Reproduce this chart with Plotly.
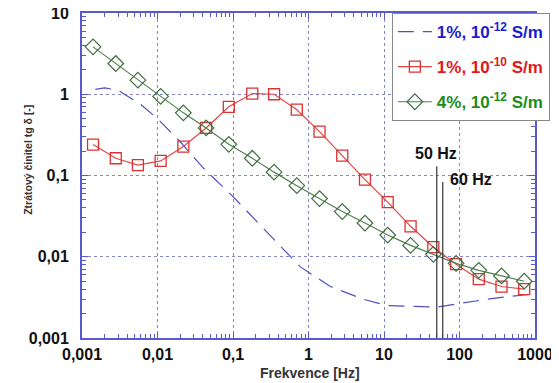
import math
import plotly.graph_objects as go

# ---- data ----
freq_pts = [0.0014, 0.0028, 0.0055, 0.011, 0.022, 0.044, 0.088, 0.18, 0.35, 0.7,
            1.4, 2.8, 5.6, 11.2, 22.5, 45, 90, 180, 360, 720]
tan_red = [0.24, 0.163, 0.134, 0.151, 0.227, 0.385, 0.70, 1.02, 1.0, 0.645,
           0.347, 0.176, 0.089, 0.047, 0.0237, 0.0131, 0.0081, 0.0053, 0.0043, 0.0040]
tan_green = [3.83, 2.39, 1.49, 0.94, 0.59, 0.385, 0.242, 0.163, 0.11, 0.075,
             0.052, 0.036, 0.026, 0.0185, 0.0138, 0.0107, 0.0083, 0.0068, 0.0058, 0.0050]
freq_blue = [0.0015, 0.002, 0.003, 0.004, 0.006, 0.01, 0.02, 0.04, 0.1, 0.2, 0.42,
             0.78, 1.95, 5.3, 11, 30, 50, 110, 300, 1000]
tan_blue = [1.15, 1.2, 1.12, 0.95, 0.75, 0.5, 0.26, 0.125, 0.055, 0.028, 0.0135,
            0.0075, 0.0043, 0.003, 0.0025, 0.0024, 0.0024, 0.0027, 0.0031, 0.0035]

series_names = ["1%, 10<sup>-12</sup> S/m", "1%, 10<sup>-10</sup> S/m", "4%, 10<sup>-12</sup> S/m"]

x_tickvals = [0.001, 0.01, 0.1, 1, 10, 100, 1000]
x_ticktext = ["0,001", "0,01", "0,1", "1", "10", "100", "1000"]
y_tickvals = [0.001, 0.01, 0.1, 1, 10]
y_ticktext = ["0,001", "0,01", "0,1", "1", "10"]

mark_freqs = [50, 60]
mark_tops = [0.13, 0.083]
mark_labels = ["50 Hz", "60 Hz"]
mark_label_x = [49.5, 140]
mark_label_y = [0.186, 0.089]

# ---- figure ----
BLUE = "#4f4fc2"
RED = "#e04848"
GREEN = "#4f7f4f"
AXIS = "#5a5ad0"
GRID = "#8585c8"
FONT = "Liberation Sans, Arial"

fig = go.Figure()
fig.add_trace(go.Scatter(x=freq_blue, y=tan_blue, mode="lines", name=series_names[0],
                         line=dict(color=BLUE, width=1.2, dash="16px,9px"),
                         legendgroup="a"))
fig.add_trace(go.Scatter(x=freq_pts, y=tan_red, mode="lines+markers", name=series_names[1],
                         line=dict(color=RED, width=1.2),
                         marker=dict(symbol="square-open", size=11, color="#dd3030",
                                     line=dict(width=1.3)),
                         legendgroup="b"))
fig.add_trace(go.Scatter(x=freq_pts, y=tan_green, mode="lines+markers", name=series_names[2],
                         line=dict(color=GREEN, width=1.2),
                         marker=dict(symbol="diamond-open", size=12, color="#3f6f3f",
                                     line=dict(width=1.2)),
                         legendgroup="c"))

for f, top in zip(mark_freqs, mark_tops):
    fig.add_shape(type="line", xref="x", yref="y", x0=f, x1=f, y0=0.001, y1=top,
                  line=dict(color="#333333", width=1.2))
for lx, ly, txt in zip(mark_label_x, mark_label_y, mark_labels):
    fig.add_annotation(x=math.log10(lx), y=math.log10(ly), xref="x", yref="y",
                       text="<b>" + txt + "</b>",
                       showarrow=False, font=dict(family=FONT, size=16, color="#111111"))

def minor_vals(lo, hi):
    out = []
    e = lo
    while e < hi:
        for m in range(2, 10):
            out.append(m * 10 ** e)
        e += 1
    return out

common = dict(type="log", showline=True, linecolor=AXIS, linewidth=2, mirror="ticks",
              ticks="inside", ticklen=6, tickcolor=AXIS, tickwidth=1,
              showgrid=True, gridcolor=GRID, griddash="dot", gridwidth=1,
              zeroline=False, automargin=False, ticklabeloverflow="allow",
              tickfont=dict(family=FONT, size=16, color="#111111", weight="bold"))

fig.update_xaxes(range=[-3, 3], tickvals=x_tickvals, ticktext=x_ticktext,
                 ticklabelstandoff=1,
                 minor=dict(tickvals=minor_vals(-3, 3), ticks="inside", ticklen=4,
                            tickcolor=AXIS, showgrid=False),
                 **common)
fig.update_yaxes(range=[-3, 1], tickvals=y_tickvals, ticktext=y_ticktext,
                 ticklabelstandoff=8,
                 minor=dict(tickvals=minor_vals(-3, 1), ticks="inside", ticklen=4,
                            tickcolor=AXIS, showgrid=False),
                 **common)

fig.add_annotation(xref="paper", yref="paper", x=0.503, y=-0.108, yanchor="middle",
                   text="<b>Frekvence [Hz]</b>",
                   showarrow=False, font=dict(family=FONT, size=14, color="#333333"))
fig.add_annotation(xref="paper", yref="paper", x=-0.137, y=0.548, textangle=-90,
                   text="<b>Ztrátový činitel tg δ [-]</b>",
                   showarrow=False, font=dict(family=FONT, size=10.5, color="#333333"))

# the page body adds an 8px offset, so the figure is 8px smaller and margins shifted
fig.update_layout(
    width=551, height=375,
    margin=dict(l=74, r=24, t=5, b=45),
    paper_bgcolor="white", plot_bgcolor="white",
    showlegend=True,
    legend=dict(x=0.684, y=1.0, xanchor="left", yanchor="top",
                bgcolor="white", bordercolor="#888888", borderwidth=1,
                tracegroupgap=10, itemwidth=34,
                font=dict(family=FONT, size=17, weight="bold")),
)

legend_colors = ["#1c1cd0", "#e01818", "#1a8c1a"]
for tr, col, nm in zip(fig.data, legend_colors, series_names):
    tr.name = '<span style="color:%s">%s</span>' % (col, nm)

fig.write_html("out.html")
